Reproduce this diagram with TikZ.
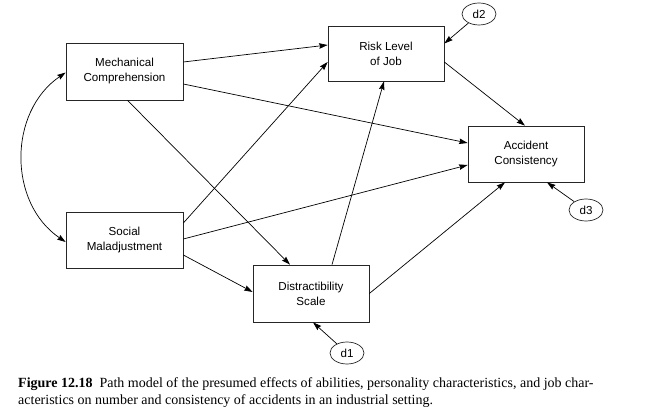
\documentclass[tikz,border=0pt]{standalone}
\usepackage{fontspec}
\setmainfont{Liberation Serif}
\newfontfamily\boxfont{Liberation Sans}
\usetikzlibrary{arrows.meta,shapes.geometric}
\begin{document}
\begin{tikzpicture}[x=1pt,y=-1pt,
  var/.style={draw=black!85,line width=0.7pt,rectangle,minimum width=116pt,minimum height=56pt,
    align=center,font=\boxfont\fontsize{11.6}{15}\selectfont,inner sep=0pt},
  err/.style={draw=black!85,line width=0.7pt,ellipse,minimum width=34pt,minimum height=22pt,
    inner sep=0pt,font=\boxfont\fontsize{11.6}{14}\selectfont},
  path/.style={line width=0.7pt,-{Stealth[length=8.5pt,width=5.5pt,inset=1pt]}},
  cov/.style={line width=0.7pt,{Stealth[length=8.5pt,width=5.5pt,inset=1pt]}-{Stealth[length=8.5pt,width=5.5pt,inset=1pt]}},
  capline/.style={anchor=base west,inner sep=0pt,font=\fontsize{14}{17}\selectfont}]
\useasboundingbox (0,0) rectangle (647,419);
\node[var,minimum width=117pt,minimum height=57pt] (mech) at (124.5,71.5) {Mechanical\\Comprehension};
\node[var,minimum height=55pt] (risk) at (386,53.5) {Risk Level\\of Job};
\node[var] (acc) at (526,154) {Accident\\Consistency};
\node[var,minimum width=117pt] (soc) at (124.5,240) {Social\\Maladjustment};
\node[var,minimum height=57pt] (dis) at (311,293.5) {Distractibility\\Scale};
\node[err] (d2) at (479,14) {d2};
\node[err] (d3) at (586,210) {d3};
\node[err] (d1) at (347,353) {d1};
\draw[path] ([yshift=9.5pt]mech.east) -- ([yshift=8.5pt]risk.west);
\draw[path] ([yshift=-12.5pt]mech.east) -- ([yshift=11pt]acc.west);
\draw[path] ([xshift=3pt]mech.south) -- ([xshift=-21pt]dis.north);
\draw[path] ([yshift=17pt]soc.east) -- ([yshift=-8.5pt]risk.west);
\draw[path] ([yshift=1pt]soc.east) -- ([yshift=-11pt]acc.west);
\draw[path] ([yshift=-15pt]soc.east) -- ([yshift=1.5pt]dis.west);
\draw[path] ([xshift=21pt]dis.north) -- ([xshift=-2pt]risk.south);
\draw[path] (dis.east) -- ([xshift=-21pt]acc.south);
\draw[path] ([yshift=-8.5pt]risk.east) -- ([xshift=-1pt]acc.north);
\draw[path] (d2) -- ([yshift=10pt]risk.east);
\draw[path] (d3) -- ([xshift=21pt]acc.south);
\draw[path] (d1) -- ([xshift=2pt]dis.south);
\draw[cov] ([yshift=-1pt]mech.west) .. controls (8,112) and (8,203) .. ([yshift=-2pt]soc.west);
\node[capline] (cap1) at (18,387)
  {\textbf{Figure 12.18}\hspace{0.5em}Path model of the presumed effects of abilities, personality characteristics, and job char-};
\node[capline] (cap2) at (18,404)
  {acteristics on number and consistency of accidents in an industrial setting.};
\end{tikzpicture}
\end{document}
